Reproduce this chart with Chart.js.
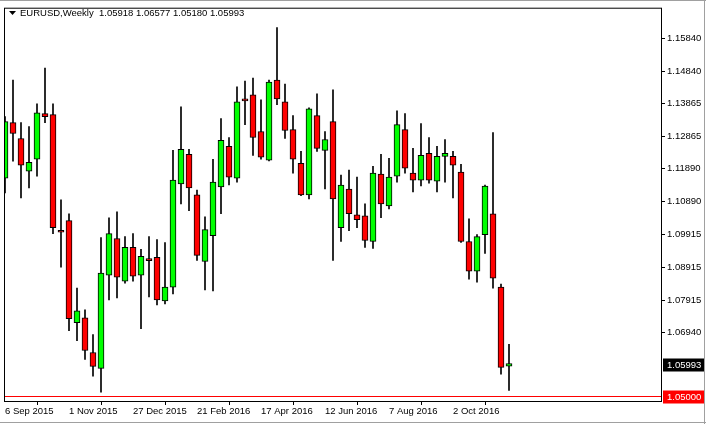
<!DOCTYPE html>
<html><head><meta charset="utf-8">
<script src="https://cdn.jsdelivr.net/npm/chart.js@4/dist/chart.umd.min.js"></script>
<style>html,body{margin:0;padding:0;background:#fff;overflow:hidden}canvas{display:block}</style>
</head><body><canvas id="c" width="706" height="424"></canvas>
<script>
const openP  = [1.1161,1.1329,1.1281,1.1182,1.1218,1.1356,1.1353,1.0999,1.1032,1.0723,1.0738,1.0633,1.0585,1.0867,1.0978,1.0849,1.0951,1.0867,1.0913,1.0921,1.0789,1.0831,1.1143,1.1233,1.1110,1.0909,1.0987,1.1134,1.1257,1.1161,1.1401,1.1413,1.1302,1.1215,1.1458,1.1392,1.1308,1.1206,1.1110,1.1350,1.1245,1.1332,1.1011,1.1128,1.1050,1.1047,1.0969,1.1173,1.1077,1.1167,1.1308,1.1176,1.1155,1.1236,1.1152,1.1227,1.1227,1.1179,1.0969,1.0879,1.0990,1.1053,1.0831,1.05918];
const highP  = [1.1347,1.1458,1.1329,1.1317,1.1386,1.1494,1.1386,1.1095,1.1053,1.0828,1.0762,1.0687,1.0981,1.1041,1.1059,1.0984,1.0993,1.0945,1.0984,1.0975,1.0966,1.1245,1.1377,1.1248,1.1125,1.1044,1.1218,1.1341,1.1284,1.1437,1.1455,1.1464,1.1398,1.1458,1.1617,1.1446,1.1350,1.1242,1.1374,1.1416,1.1302,1.1428,1.1170,1.1185,1.1164,1.1083,1.1197,1.1233,1.1221,1.1365,1.1356,1.1251,1.1326,1.1284,1.1257,1.1278,1.1242,1.1203,1.1038,1.0990,1.1140,1.1299,1.0840,1.06577];
const lowP   = [1.1116,1.1212,1.1101,1.1131,1.1167,1.1329,1.0993,1.0891,1.0699,1.0669,1.0612,1.0561,1.0513,1.0792,1.0798,1.0843,1.0849,1.0705,1.0801,1.0777,1.0780,1.0810,1.1083,1.1062,1.0912,1.0822,1.0819,1.1053,1.1140,1.1149,1.1323,1.1230,1.1218,1.1213,1.1383,1.1281,1.1176,1.1108,1.1098,1.1242,1.1128,1.0912,1.0969,1.1002,1.1011,1.0951,1.0948,1.1041,1.1068,1.1149,1.1176,1.1119,1.1137,1.1146,1.1119,1.1149,1.1101,1.0966,1.0855,1.0846,1.0933,1.0828,1.0567,1.05180];
const closeP = [1.1332,1.1296,1.1200,1.1209,1.1359,1.1347,1.1011,1.0997,1.0735,1.0759,1.0639,1.0591,1.0873,1.0993,1.0861,1.0951,1.0864,1.0924,1.0911,1.0792,1.0831,1.1155,1.1248,1.1131,1.0927,1.1005,1.1149,1.1275,1.1164,1.1392,1.1395,1.1284,1.1224,1.1452,1.1401,1.1305,1.1218,1.1110,1.1371,1.1251,1.1278,1.1098,1.1140,1.1053,1.1035,1.0972,1.1176,1.1083,1.1164,1.1323,1.1191,1.1155,1.1230,1.1155,1.1227,1.1236,1.1200,1.0969,1.0879,1.0984,1.1137,1.0858,1.0588,1.05993];
const dateLabels = ['6 Sep 2015','1 Nov 2015','27 Dec 2015','21 Feb 2016','17 Apr 2016','12 Jun 2016','7 Aug 2016','2 Oct 2016'];
const dateIdx = [0,8,16,24,32,40,48,56];
const priceTicks = [1.0694,1.07915,1.08915,1.09915,1.1089,1.1189,1.12865,1.13865,1.1484,1.1584];
const askLevel = 1.05000;
const lastPrice = 1.05993;

const wicks = openP.map((o,i)=>({x:i,y:[lowP[i],highP[i]]}));
const bodies = openP.map((o,i)=>({x:i,y:[o,closeP[i]]}));
const bodyColors = openP.map((o,i)=>closeP[i]>=o?'#00ff00':'#ff0000');

const FAM = 'Liberation Sans';
const FONT = '9.5px "Liberation Sans"';
const deco = {
  id:'deco',
  afterDraw(ch){
    const c=ch.ctx, a=ch.chartArea, y=ch.scales.y;
    c.save();
    c.strokeStyle='#000'; c.lineWidth=1;
    c.strokeRect(a.left+0.5,a.top+0.5,a.right-a.left-1,a.bottom-a.top);
    c.strokeStyle='#a0a0a0';
    c.beginPath(); c.moveTo(0,0.5); c.lineTo(706,0.5); c.moveTo(704.5,0); c.lineTo(704.5,424);
    c.moveTo(0,422.5); c.lineTo(706,422.5); c.stroke();
    const ya=Math.round(y.getPixelForValue(askLevel))+0.5;
    c.strokeStyle='#ff0000'; c.beginPath(); c.moveTo(a.left+1,ya); c.lineTo(a.right-1,ya); c.stroke();
    c.font=FONT; c.textBaseline='middle'; c.textAlign='left';
    c.fillStyle='#ff0000'; c.fillRect(663,ya-6,41,13);
    c.fillStyle='#fff'; c.fillText(askLevel.toFixed(5),667,ya+1);
    const yl=Math.round(y.getPixelForValue(lastPrice))+0.5;
    c.fillStyle='#000'; c.fillRect(663,yl-6,41,13);
    c.fillStyle='#fff'; c.fillText(lastPrice.toFixed(5),667,yl+1);
    c.fillStyle='#000';
    c.beginPath(); c.moveTo(9,11); c.lineTo(16,11); c.lineTo(12.5,15); c.closePath(); c.fill();
    c.fillText('EURUSD,Weekly  '+[openP[63],highP[63],lowP[63],closeP[63]].map(v=>v.toFixed(5)).join(' '),20,13);
    c.restore();
  }
};

new Chart(document.getElementById('c'),{
  type:'bar',
  data:{datasets:[
    {data:wicks,backgroundColor:'#000',borderWidth:0,barThickness:1,grouped:false,order:2},
    {data:bodies,backgroundColor:bodyColors,borderColor:'#000',borderWidth:1,borderSkipped:false,barThickness:6,grouped:false,order:1,minBarLength:2}
  ]},
  options:{
    responsive:false,animation:false,devicePixelRatio:1,
    layout:{padding:{left:4,top:4,right:0,bottom:0}},
    plugins:{legend:{display:false},tooltip:{enabled:false}},
    scales:{
      x:{type:'linear',min:-0.125,max:82.125,offset:false,
        afterBuildTicks(s){s.ticks=dateIdx.map(v=>({value:v}));},
        afterFit(s){s.height=23;},
        grid:{drawOnChartArea:false,drawTicks:true,tickLength:4,color:'#000'},
        border:{display:false},
        ticks:{align:'start',padding:1,color:'#000',font:{family:FAM,size:9.5},maxRotation:0,autoSkip:false,
          callback:(v)=>dateLabels[dateIdx.indexOf(v)]}
      },
      y:{position:'right',min:1.0486,max:1.1677,
        afterBuildTicks(s){s.ticks=priceTicks.map(v=>({value:v}));},
        afterFit(s){s.width=44;},
        grid:{drawOnChartArea:false,drawTicks:true,tickLength:3,color:'#000'},
        border:{display:false},
        ticks:{padding:2,color:'#000',font:{family:FAM,size:9.5},autoSkip:false,
          callback:(v)=>v.toFixed(5)}
      }
    }
  },
  plugins:[deco]
});
</script></body></html>
